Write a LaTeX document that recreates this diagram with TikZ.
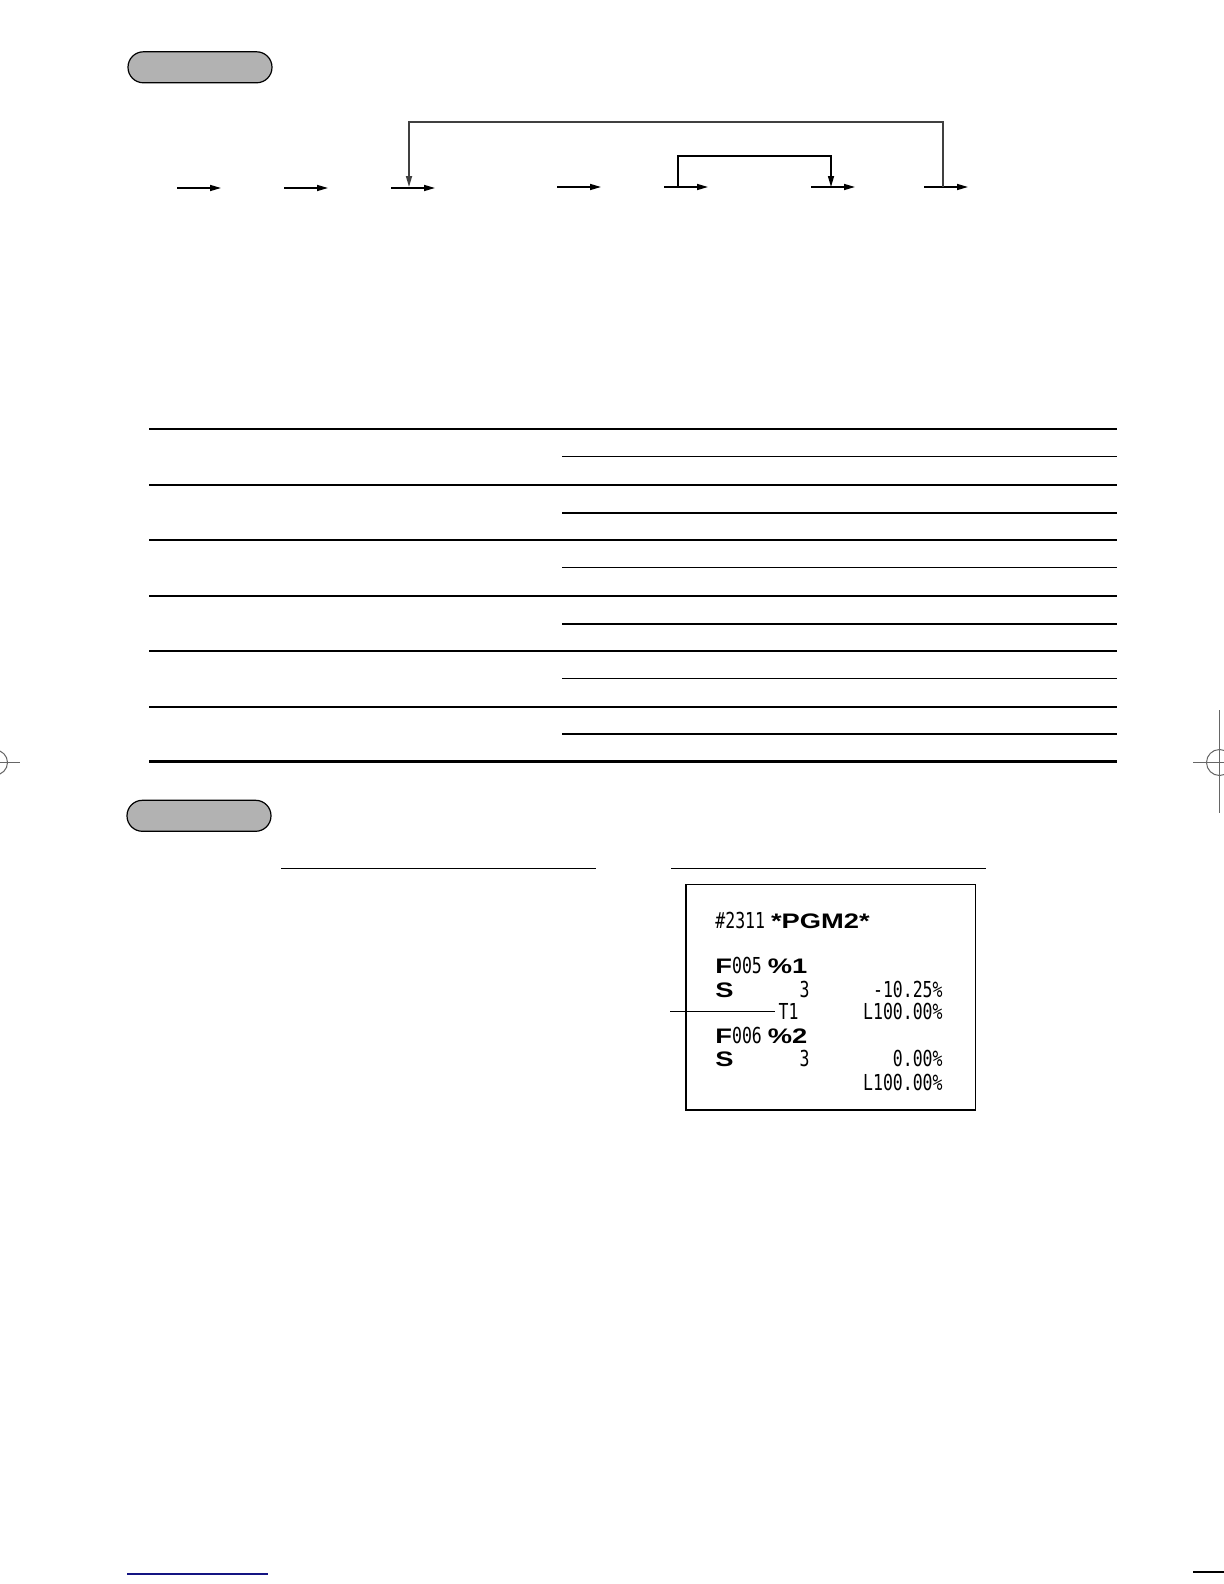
\documentclass[tikz,border=0pt]{standalone}
\usepackage{fontspec}
\usetikzlibrary{arrows.meta}
\newfontfamily\narf[FakeStretch=0.75]{DejaVu Sans Mono}
\newfontfamily\widf[FakeStretch=1.3]{Liberation Sans}
\newcommand{\nar}{\narf\fontsize{11pt}{11pt}\selectfont}
\newcommand{\wid}{\widf\bfseries\fontsize{10.5pt}{10.5pt}\selectfont}
\begin{document}
\begin{tikzpicture}[x=0.5pt,y=-0.5pt,
  arr/.style={line width=0.75pt,-{Triangle[length=5.5pt,width=3pt]}},
  loopline/.style={line width=0.8pt},
  pill/.style={draw=black,line width=0.6pt,fill=black!30,minimum width=72pt,minimum height=15.5pt,rounded corners=7.7pt,inner sep=0pt},
  thickrule/.style={line width=1.1pt},
  thinrule/.style={line width=0.7pt},
  rt/.style={inner sep=0pt,anchor=base west},
  rtr/.style={inner sep=0pt,anchor=base east},
  crop/.style={draw=black!60,line width=0.5pt}]
\useasboundingbox (0,0) rectangle (1224,1584);

% headings (pills)
\node[pill] (pill1) at (200,67.3) {};
\node[pill] (pill2) at (199,815.8) {};

% key sequence arrows
\coordinate (s1) at (177,188); \coordinate (e1) at (221,188);
\coordinate (s2) at (284,188); \coordinate (e2) at (328,188);
\coordinate (s3) at (391,188); \coordinate (e3) at (435,188);
\coordinate (s4) at (557,187); \coordinate (e4) at (601,187);
\coordinate (s5) at (664,187); \coordinate (e5) at (708,187);
\coordinate (s6) at (811,187); \coordinate (e6) at (855,187);
\coordinate (s7) at (924,187); \coordinate (e7) at (968,187);
\foreach \i in {1,...,7} \draw[arr] (s\i) -- (e\i);

% big loop
\coordinate (bl1) at (943,187);
\coordinate (bl2) at (409,187);
\draw[loopline,draw=black!75,-{Triangle[length=5.5pt,width=3pt]}] (bl1) -- ++(0,-65) -| (bl2);
% inner loop
\coordinate (il1) at (678,187);
\coordinate (il2) at (831,187);
\draw[arr] (il1) -- ++(0,-31) -| (il2);

% table rules
\draw[thickrule] (149,429) -- (1117,429);
\foreach \y in {456.5,513,567.5,624,678.5,734} \draw[thinrule] (562,\y) -- (1117,\y);
\foreach \y in {485,540,596,651,707} \draw[thinrule] (149,\y) -- (1117,\y);
\draw[thickrule] (149,761.5) -- (1117,761.5);

% column underlines
\draw[line width=0.8pt] (281,868.5) -- (596,868.5);
\draw[line width=0.8pt] (671,868.5) -- (986,868.5);

% receipt
\draw[line width=0.7pt] (686,884.5) rectangle (975.5,1110);
\node[rt] (r1) at (715,928) {{\nar\#2311}\hspace{3pt}{\wid *PGM2*}};
\node[rt] (r2) at (715,973) {{\wid F}{\nar 005}\hspace{3pt}{\wid\%1}};
\node[rt] (r3a) at (715,997) {\wid S};
\node[rtr] (r3b) at (810,997) {\nar 3};
\node[rtr] (r3c) at (943,997) {\nar -10.25\%};
\node[rtr] (t1) at (799,1019) {\nar T1};
\node[rtr] (r4b) at (943,1019) {\nar L100.00\%};
\node[rt] (r5) at (715,1043) {{\wid F}{\nar 006}\hspace{3pt}{\wid\%2}};
\node[rt] (r6a) at (715,1066) {\wid S};
\node[rtr] (r6b) at (810,1066) {\nar 3};
\node[rtr] (r6c) at (943,1066) {\nar 0.00\%};
\node[rtr] (r7) at (943,1090) {\nar L100.00\%};
\coordinate (ldr) at (670,1011.5);
\draw[line width=0.6pt,shorten >=1.5pt] (ldr) -- (ldr -| t1.west);

% crop marks
\draw[crop] (-5,762.5) circle[radius=12.5];
\draw[crop] (0,762.5) -- (20,762.5);
\draw[crop] (1219.5,710) -- (1219.5,813);
\draw[crop] (1219.5,762.5) circle[radius=13];
\draw[crop] (1193,762.5) -- (1224,762.5);

% bottom marks
\draw[line width=0.85pt,draw={rgb,255:red,20;green,20;blue,130}] (127,1574) -- (268,1574);
\draw[line width=0.6pt] (1193,1572) -- (1224,1572);
\end{tikzpicture}
\end{document}
